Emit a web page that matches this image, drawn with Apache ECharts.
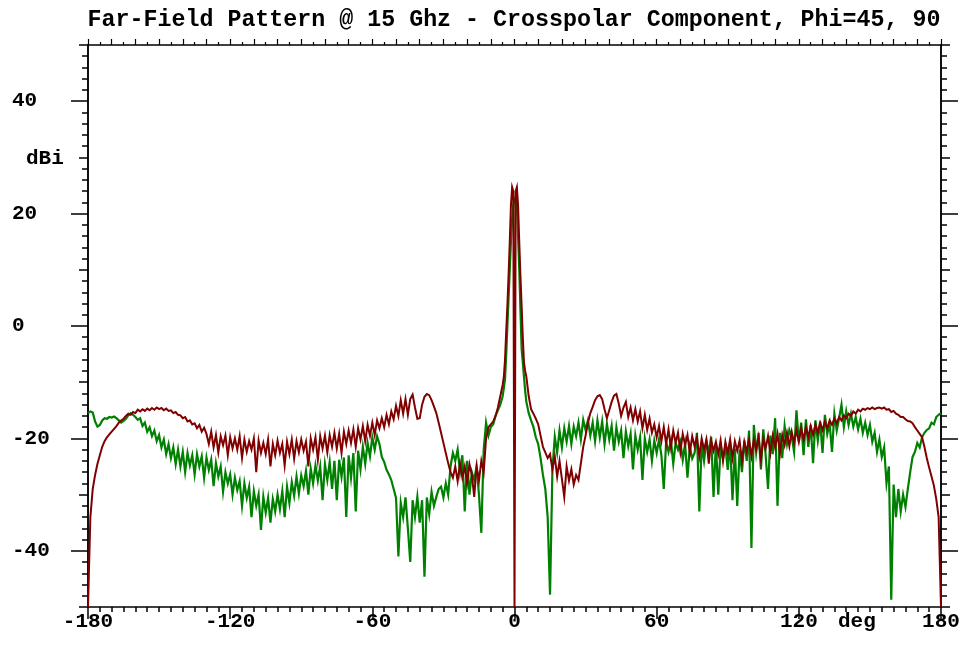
<!DOCTYPE html>
<html>
<head>
<meta charset="utf-8">
<script src="https://cdn.jsdelivr.net/npm/echarts@6/dist/echarts.min.js"></script>
<style>html,body{margin:0;padding:0;background:#fff}#c{width:971px;height:648px}</style>
</head>
<body>
<div id="c"></div>
<script>
// Far-field samples every 1 degree from -180 to 180 (dBi)
const redFar = [
-50, -34, -29, -26.5, -24.5, -23, -21.5, -20.5, -19.8, -19.3,
-18.8, -18.3, -17.8, -17.2, -16.8, -16.5, -16, -15.6, -15.8, -15.3,
-15.5, -14.9, -15.2, -14.8, -15.1, -14.7, -15, -14.6, -14.9, -14.5,
-14.8, -14.6, -15, -14.7, -15.1, -15, -15.5, -15.3, -15.8, -15.9,
-16.4, -16.2, -17, -16.8, -17.5, -17.3, -18.2, -17.6, -18.8, -18.1,
-19.2, -21, -18.8, -21.6, -19.4, -22.5, -19.6, -21.2, -19.5, -23,
-19.8, -21.8, -20, -22, -19.6, -23.5, -20.2, -22.4, -20.5, -22,
-20, -26, -20.4, -22.6, -20.8, -22.8, -20.2, -25, -21, -23,
-20.4, -22.6, -21, -24.8, -20.6, -22.8, -20.2, -23.6, -20.5, -22.5,
-20.2, -22.2, -20.6, -25, -20, -22, -19.8, -23.8, -19.6, -21.8,
-19.5, -22.5, -19.4, -21.5, -19, -21.8, -19.2, -22.6, -18.8, -21,
-18.6, -20.8, -18.4, -21.5, -18.2, -20.2, -17.8, -20.5, -17.6, -19.5,
-17.2, -19.4, -16.8, -18.2, -16.4, -18, -15.8, -17.5, -15.2, -16.6,
-14.2, -16, -13.2, -15.6, -13, -15.8, -13, -12.2, -14.5, -16.5,
-16.4, -14, -12.6, -12.1, -12.3, -13.2, -14.3, -15.5, -17.2, -19,
-20.8, -22.6, -24.4, -26, -27, -25, -27.6, -24.5, -27, -25,
-28, -24.6, -26.5, -30.4, -25, -27.5, -24, -26, -20, -18,
-17.5, -17, -16, -14.5, -12.5, -10.5, -6, 3.7, 15, 24.7,
-50, 24.7, 15, 3.7, -6.5, -9, -12.5, -14.8, -15.6, -16.5,
-17.5, -19.5, -21.5, -22.5, -23.5, -22.8, -25.5, -23.2, -26.8, -24,
-27.2, -30.4, -25, -27.5, -25.5, -28.2, -26.5, -27.4, -24.5, -21.5,
-19.5, -17.2, -15.5, -14.4, -13.2, -12.5, -12.3, -13, -14.8, -16.4,
-15, -13.5, -12.4, -12.1, -13.8, -16, -14.5, -13.5, -16.2, -14.5,
-16.8, -14.8, -17, -15.2, -18.2, -15.8, -18.5, -16.5, -19, -17.5,
-19.8, -17.8, -20.5, -18, -21, -18.4, -21.6, -18.6, -20.8, -19,
-22.4, -19.2, -21.2, -19.4, -22.6, -19.6, -21.4, -19.8, -23.2, -20,
-22, -20.2, -24.5, -20.4, -22.2, -20.6, -22.8, -20.4, -24, -20.6,
-22.6, -20.2, -23.5, -20.5, -22.2, -20.4, -24, -20.6, -22.4, -20.2,
-23.2, -20.2, -22, -19.8, -23.8, -20, -21.8, -19.6, -22.6, -19.5,
-21.6, -19.2, -22.8, -19.4, -21.2, -19, -21.4, -18.8, -20.8, -18.5,
-20.6, -18.2, -20.2, -18, -19.8, -17.8, -19.4, -17.5, -19, -17.2,
-18.5, -17, -18.2, -16.8, -17.6, -16.5, -17.3, -16.2, -16.8, -15.9,
-16.4, -15.6, -16, -15.2, -15.6, -14.9, -15.2, -14.7, -14.9, -14.6,
-14.8, -14.5, -14.8, -14.6, -14.5, -14.7, -14.5, -14.9, -14.8, -15.3,
-15.1, -15.6, -15.8, -16.2, -16.2, -16.6, -16.9, -17, -17.3, -18,
-18.6, -19.2, -19.8, -21.5, -23.5, -25.2, -26.8, -28.4, -30.8, -34,
-50
];
const greenFar = [
-15.5, -15.2, -15.4, -17, -17.9, -17.6, -16.8, -16.4, -16.5, -16.2,
-16.3, -16.1, -16.4, -16.8, -17.2, -16.9, -16.5, -15.9, -15.5, -15.8,
-16.2, -16.7, -16.4, -17.8, -17.2, -18.8, -18, -19.6, -18.6, -20.5,
-19.4, -21.6, -20.2, -22.8, -21, -23.5, -21.6, -24.6, -22, -25,
-22.4, -26, -22.6, -24.8, -23, -26.4, -22.8, -25, -23.2, -27,
-23.4, -25.6, -23.8, -28.5, -24.4, -26.8, -25, -29.5, -26, -28,
-26.4, -30, -27, -29.2, -27.6, -32, -28, -30.6, -28.6, -34,
-29.4, -32, -30, -36.3, -30.4, -33.2, -30.6, -35, -30.8, -33,
-30, -32.6, -29.4, -34, -28.6, -31.5, -27.8, -30.2, -26.8, -29.8,
-26.6, -28.5, -25.8, -30, -25.4, -28, -24.8, -27.5, -25, -31,
-24.6, -27.4, -24.2, -29, -24, -31, -23.8, -26.8, -23.4, -34,
-23, -27, -22.6, -33, -22.2, -25.5, -21.5, -24.5, -20.8, -23.2,
-19.8, -22, -19.6, -21, -23.3, -24.2, -25.6, -26.4, -27.4, -29,
-30.6, -41, -31.5, -34, -30.5, -36, -42, -31, -34, -30.4,
-35, -31, -44.6, -30.5, -33.5, -29.5, -32, -30.4, -29, -28.6,
-30.5, -28, -30, -25, -22.6, -24, -22, -26, -23, -33,
-24, -30, -26, -27.4, -25, -30, -36.8, -22, -17.2, -19.5,
-18, -17.5, -16, -15, -14, -12.5, -9.5, 0, 10, 19,
22.5, 22, 10.3, -4, -9, -13.5, -15.5, -16.8, -18, -19.8,
-21, -23.5, -26.5, -29, -34, -47.8, -25.6, -19.7, -22.5, -18.6,
-21.6, -18.2, -20.6, -17.8, -21, -17.9, -19.6, -17.2, -20.2, -16.7,
-18.5, -16.8, -19.5, -17.2, -20.5, -16.8, -19.8, -17, -21, -17.4,
-20.2, -17.8, -22.2, -18, -20.6, -18.6, -23.5, -18.8, -21.4, -19.2,
-25.5, -19.5, -22, -19.8, -27.4, -20, -22.4, -20.2, -24, -20.4,
-22.6, -20.2, -23, -29, -20.6, -22.4, -20.4, -24.5, -20.8, -22,
-20.6, -23.8, -21, -27, -21.5, -23.6, -22.6, -19, -33, -21,
-24, -20.5, -22.6, -19.7, -30.4, -20.8, -30, -21.2, -23.6, -21.4,
-25.6, -20.6, -31, -21.8, -32, -22, -26, -20.4, -24, -18.6,
-39.5, -17.6, -22.5, -19, -25.5, -18.4, -23, -29, -19.5, -22.8,
-16.4, -32, -19, -23.5, -17.8, -21, -18.5, -19.7, -22.4, -15,
-20.6, -17.2, -23, -16.6, -21.5, -17.6, -24.4, -16.8, -20.4, -17,
-22.6, -15.8, -19.2, -17.4, -22.4, -15.6, -18.6, -16.4, -14, -18,
-15.2, -17.6, -15.6, -17.9, -16.2, -18.4, -16.5, -19, -17.2, -19.4,
-17.6, -20.6, -19, -22.4, -20.2, -23.3, -21.6, -28, -25, -48.7,
-28.2, -34, -29, -33, -30, -32.2, -29, -26, -23.3, -22.4,
-20.8, -21.6, -19.8, -19, -18.5, -18.2, -17.2, -17.5, -16.2, -15.8,
-15.5
];
// Main-beam region sampled every 0.5 degree
const centerAngles = [-4.5, -4, -3.5, -3, -2.5, -2, -1.5, -1, -0.5, 0, 0.5, 1, 1.5, 2, 2.5, 3, 3.5, 4, 4.5];
const redCenter   = [-9, -6, -1, 3.7, 9, 15, 21.5, 24.7, 24, -50, 24, 24.7, 21.5, 15, 9, 3.7, -2, -6.5, -8];
const greenCenter = [-11, -9.5, -5, 0, 5, 10, 15, 19, 21.5, 22.5, 23, 22, 16, 10.3, 3, -4, -6.5, -9, -11.5];

const xTicks = [-180, -120, -60, 0, 60, 120, 180];
const yLabelValues = [-40, -20, 0, 20, 40];
const yMidValues = [-50, -30, -10, 10, 30, 50];

function build(far, cAng, cVal) {
  const pts = [];
  for (let i = 0; i < far.length; i++) {
    const a = -180 + i;
    if (Math.abs(a) <= 4.5) continue;
    pts.push([a, far[i]]);
  }
  for (let j = 0; j < cAng.length; j++) pts.push([cAng[j], cVal[j]]);
  pts.sort((p, q) => p[0] - q[0]);
  return pts;
}

const FONT = 'Liberation Mono';
const labelStyle = {color: '#000', fontFamily: FONT, fontWeight: 'bold', fontSize: 21};
const lineBlack = {show: true, onZero: false, lineStyle: {color: '#000', width: 1.5}};

const chart = echarts.init(document.getElementById('c'), null, {renderer: 'canvas'});
chart.setOption({
  animation: false,
  backgroundColor: '#fff',
  title: {
    text: 'Far-Field Pattern @ 15 Ghz - Crosspolar Component, Phi=45, 90',
    left: 509, top: 4, textAlign: 'center',
    textStyle: {color: '#000', fontFamily: FONT, fontWeight: 'bold', fontSize: 23.3}
  },
  grid: {left: 88, right: 30, top: 45, bottom: 41, containLabel: false},
  xAxis: [
    {
      type: 'value', position: 'bottom', min: -180, max: 180, interval: 60,
      axisLine: lineBlack,
      axisTick: {show: true, inside: false, length: 12, lineStyle: {color: '#000', width: 1.5}},
      minorTick: {show: true, splitNumber: 12, length: 5, lineStyle: {color: '#000', width: 1.5}},
      axisLabel: Object.assign({margin: 4, showMinLabel: true, showMaxLabel: true,
        formatter: v => xTicks.indexOf(v) >= 0 ? String(v) : ''}, labelStyle),
      splitLine: {show: false}
    },
    {
      type: 'value', position: 'top', min: -180, max: 180, interval: 10,
      axisLine: lineBlack,
      axisTick: {show: true, inside: false, length: 6, lineStyle: {color: '#000', width: 1.2}},
      minorTick: {show: true, splitNumber: 2, length: 3, lineStyle: {color: '#000', width: 1.2}},
      axisLabel: {show: false},
      splitLine: {show: false}
    }
  ],
  yAxis: [
    {
      type: 'value', position: 'left', min: -50, max: 50, interval: 10,
      axisLine: lineBlack,
      axisTick: {show: true, length: 17, customValues: yLabelValues, lineStyle: {color: '#000', width: 1.5}},
      axisLabel: Object.assign({align: 'left', margin: 76, customValues: yLabelValues}, labelStyle),
      splitLine: {show: false}
    },
    {
      type: 'value', position: 'left', min: -50, max: 50, interval: 10,
      axisLine: lineBlack,
      axisTick: {show: true, length: 9, customValues: yMidValues, lineStyle: {color: '#000', width: 1.5}},
      minorTick: {show: true, splitNumber: 5, length: 6, lineStyle: {color: '#000', width: 1.5}},
      axisLabel: {show: false},
      splitLine: {show: false}
    },
    {
      type: 'value', position: 'right', min: -50, max: 50, interval: 10,
      axisLine: lineBlack,
      axisTick: {show: true, length: 9, customValues: yMidValues, lineStyle: {color: '#000', width: 1.5}},
      minorTick: {show: true, splitNumber: 5, length: 6, lineStyle: {color: '#000', width: 1.5}},
      axisLabel: {show: false},
      splitLine: {show: false}
    },
    {
      type: 'value', position: 'right', min: -50, max: 50, interval: 10,
      axisLine: lineBlack,
      axisTick: {show: true, length: 17, customValues: yLabelValues, lineStyle: {color: '#000', width: 1.5}},
      axisLabel: {show: false},
      splitLine: {show: false}
    }
  ],
  graphic: [
    {type: 'text', left: 26, top: 148, style: {text: 'dBi', fill: '#000', font: 'bold 21px "' + FONT + '"'}},
    {type: 'text', left: 838, top: 611, style: {text: 'deg', fill: '#000', font: 'bold 21px "' + FONT + '"'}}
  ],
  series: [
    {
      name: 'Phi=90', type: 'line', xAxisIndex: 0, yAxisIndex: 0,
      data: build(greenFar, centerAngles, greenCenter),
      showSymbol: false, symbol: 'none', smooth: false, clip: true,
      lineStyle: {color: '#008000', width: 2.2, join: 'miter'}, itemStyle: {color: '#008000'}
    },
    {
      name: 'Phi=45', type: 'line', xAxisIndex: 0, yAxisIndex: 0,
      data: build(redFar, centerAngles, redCenter),
      showSymbol: false, symbol: 'none', smooth: false, clip: true,
      lineStyle: {color: '#800000', width: 2, join: 'miter'}, itemStyle: {color: '#800000'}
    }
  ]
});
</script>
</body>
</html>
